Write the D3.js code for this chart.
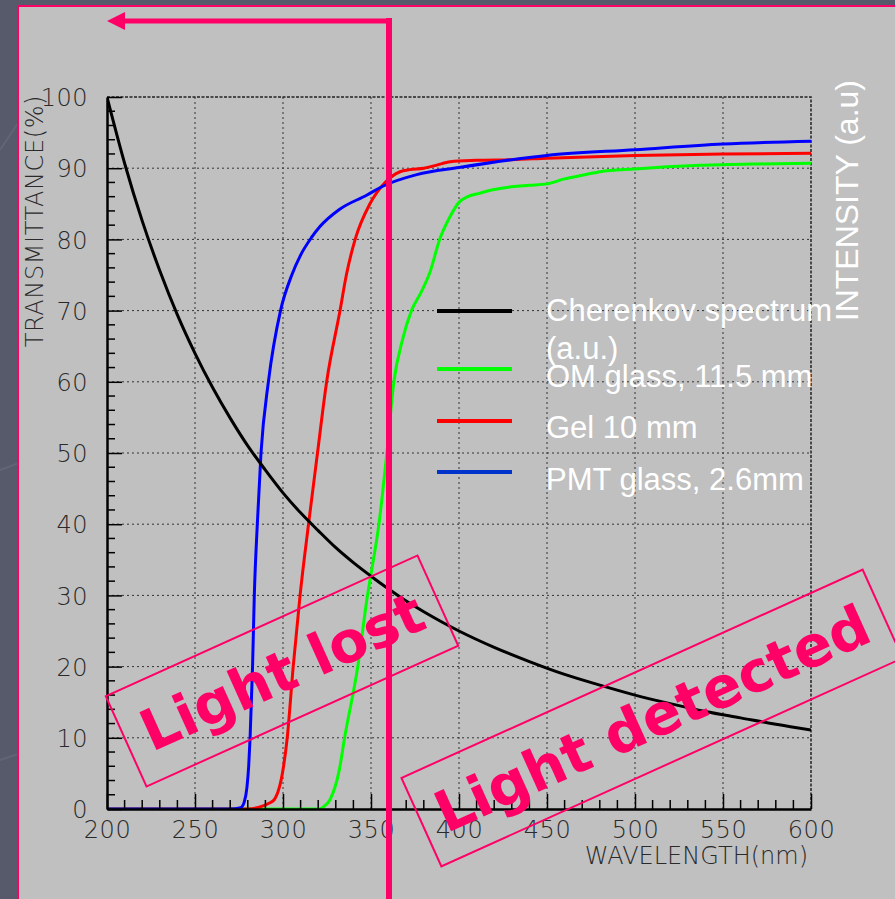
<!DOCTYPE html>
<html>
<head>
<meta charset="utf-8">
<script src="https://cdn.jsdelivr.net/npm/d3@7"></script>
<style>
  body { margin: 0; background: #565a6b; }
  svg { display: block; }
</style>
</head>
<body>
<div id="chart"></div>
<script>
// axis ticks
const xTicks = [200, 250, 300, 350, 400, 450, 500, 550, 600];
const yTicks = [0, 10, 20, 30, 40, 50, 60, 70, 80, 90, 100];

// Cherenkov spectrum (a.u.)
const cherenkovNm = [200, 210, 220, 230, 240, 250, 260, 270, 280, 290, 300, 310, 320, 330, 340, 350, 360, 370, 380, 390, 400,
  420, 440, 460, 480, 500, 520, 540, 560, 580, 600];
const cherenkovT = [100, 90.7, 82.6, 75.6, 69.4, 64.0, 59.2, 54.9, 51.0, 47.6, 44.4, 41.6, 39.1, 36.7, 34.6, 32.7, 30.9, 29.2, 27.7, 26.3, 25.0,
  22.7, 20.7, 18.9, 17.4, 16.0, 14.8, 13.7, 12.8, 11.9, 11.1];

// OM glass, 11.5 mm
const omNm = [200, 320, 323, 326.7, 332, 335, 342.5, 348, 350, 354.5, 359, 363, 368, 373, 378.5, 383.5, 389, 394.5, 400,
  405, 412, 420, 430, 440, 450, 460, 470, 480, 500, 537, 570, 600];
const omT = [0, 0, 0.3, 1.3, 5.5, 10, 20, 30, 33, 40, 50, 60, 66, 70, 72.6, 75.4, 80, 83, 85.2,
  86, 86.5, 87, 87.4, 87.6, 87.8, 88.5, 89.0, 89.5, 89.9, 90.4, 90.6, 90.7];

// Gel 10 mm
const gelNm = [200, 280, 287, 292, 295, 300, 302.4, 305.8, 309.7, 314.5, 319.6, 324.8, 332.4, 336, 341, 349.4, 358, 366.5,
  372, 380, 387, 395, 410, 430, 450, 500, 550, 600];
const gelT = [0, 0, 0.3, 0.8, 1.3, 5.5, 10, 20, 30, 40, 50, 60, 70, 75, 80, 85, 88, 89.5,
  89.8, 90.0, 90.4, 90.9, 91.1, 91.2, 91.4, 91.8, 92.0, 92.1];

// PMT glass, 2.6mm
const pmtNm = [200, 270, 276, 278, 279.5, 280.5, 281.3, 282.7, 283.7, 285.4, 287.5, 291.7, 298.6, 305, 310, 316, 321, 332,
  347.5, 357, 376, 400, 450, 500, 550, 600];
const pmtT = [0, 0, 0.2, 1, 3, 6, 10, 20, 30, 40, 50, 60, 70, 75, 77.8, 80.2, 81.8, 84.2,
  86.2, 87.5, 89.1, 90.1, 91.8, 92.6, 93.4, 93.8];

const seriesNames = ["Cherenkov spectrum\n(a.u.)", "OM glass, 11.5 mm", "Gel 10 mm", "PMT glass, 2.6mm"];
const seriesColors = ["#000000", "#00ff00", "#ff0000", "#0000ff"];
const legendColors = ["#000000", "#00ff00", "#ff0000", "#0033cc"];

const width = 895;
const height = 899;
const pink = "#ff0066";

const series = [
  { name: seriesNames[0], color: seriesColors[0], nm: cherenkovNm, t: cherenkovT },
  { name: seriesNames[1], color: seriesColors[1], nm: omNm, t: omT },
  { name: seriesNames[2], color: seriesColors[2], nm: gelNm, t: gelT },
  { name: seriesNames[3], color: seriesColors[3], nm: pmtNm, t: pmtT }
];

const x = d3.scaleLinear().domain([200, 600]).range([107, 811]);
const y = d3.scaleLinear().domain([0, 100]).range([809, 97]);

const svg = d3.create("svg")
  .attr("width", width)
  .attr("height", height)
  .attr("viewBox", [0, 0, width, height]);

// slide background
svg.append("rect").attr("width", width).attr("height", height).attr("fill", "#565a6b");
[[0, 150, 60, 60], [0, 470, 80, 440], [0, 760, 60, 740]].forEach(([a, b, c, d]) => {
  svg.append("line").attr("x1", a).attr("y1", b).attr("x2", c).attr("y2", d)
    .attr("stroke", "rgba(255,255,255,0.07)").attr("stroke-width", 2);
});
svg.append("rect")
  .attr("x", 18).attr("y", 6)
  .attr("width", width + 20).attr("height", height + 20)
  .attr("fill", "#c0c0c0")
  .attr("stroke", pink).attr("stroke-width", 2);

const font = "'DejaVu Sans', sans-serif";

// grid
const grid = svg.append("g").attr("stroke", "#333").attr("stroke-width", 1).attr("stroke-dasharray", "2,3");
grid.selectAll(".gx").data(xTicks.slice(1, -1)).join("line")
  .attr("x1", d => x(d)).attr("x2", d => x(d)).attr("y1", y(100)).attr("y2", y(0));
grid.selectAll(".gy").data(yTicks.slice(1, -1)).join("line")
  .attr("x1", x(200)).attr("x2", x(600)).attr("y1", d => y(d)).attr("y2", d => y(d));

// top and right frame (dotted like in ROOT)
svg.append("path")
  .attr("d", `M${x(200)},${y(100)}H${x(600)}V${y(0)}`)
  .attr("fill", "none").attr("stroke", "#222").attr("stroke-width", 1.5)
  .attr("stroke-dasharray", "3,1.5");

// curves
svg.append("clipPath").attr("id", "clip").append("rect")
  .attr("x", x(200)).attr("y", y(100) - 2).attr("width", x(600) - x(200)).attr("height", y(0) - y(100) + 2);

const line = d3.line().curve(d3.curveMonotoneX);
const drawOrder = [1, 2, 3, 0];
svg.append("g").attr("clip-path", "url(#clip)")
  .selectAll("path")
  .data(drawOrder.map(i => series[i]))
  .join("path")
  .attr("fill", "none")
  .attr("stroke", d => d.color)
  .attr("stroke-width", 3)
  .attr("stroke-linejoin", "round")
  .attr("d", d => line(d.nm.map((v, i) => [x(v), y(d.t[i])])));

// axes
const xAxis = svg.append("g")
  .attr("transform", `translate(0,${y(0)})`)
  .call(d3.axisBottom(x).tickValues(xTicks).tickSize(-15).tickSizeOuter(0).tickPadding(12));
const yAxis = svg.append("g")
  .attr("transform", `translate(${x(200)},0)`)
  .call(d3.axisLeft(y).tickValues(yTicks).tickSize(-15).tickSizeOuter(0).tickPadding(19));

[xAxis, yAxis].forEach(ax => {
  ax.select(".domain").attr("stroke", "#000").attr("stroke-width", 2.5);
  ax.selectAll(".tick line").attr("stroke", "#000").attr("stroke-width", 1.5);
  ax.selectAll(".tick text")
    .attr("fill", "#2a2a2a")
    .attr("font-family", font)
    .attr("font-weight", 200)
    .attr("font-size", 24)
    .attr("letter-spacing", 0.5);
});
yAxis.selectAll(".tick text").attr("dy", "0.36em");

// minor ticks
const minorX = d3.range(210, 600, 10).filter(d => d % 50 !== 0);
svg.append("g").selectAll("line").data(minorX).join("line")
  .attr("x1", d => x(d)).attr("x2", d => x(d))
  .attr("y1", y(0)).attr("y2", y(0) - 9)
  .attr("stroke", "#000").attr("stroke-width", 1.5);
const minorY = d3.range(2, 100, 2).filter(d => d % 10 !== 0);
svg.append("g").selectAll("line").data(minorY).join("line")
  .attr("x1", x(200)).attr("x2", x(200) + 8)
  .attr("y1", d => y(d)).attr("y2", d => y(d))
  .attr("stroke", "#000").attr("stroke-width", 1.5);

// axis titles
svg.append("text")
  .attr("x", 808).attr("y", 864)
  .attr("text-anchor", "end")
  .attr("font-family", font).attr("font-weight", 200).attr("font-size", 24)
  .attr("fill", "#2a2a2a")
  .text("WAVELENGTH(nm)");

svg.append("text")
  .attr("transform", "translate(43,95) rotate(-90)")
  .attr("text-anchor", "end")
  .attr("font-family", font).attr("font-weight", 200).attr("font-size", 24)
  .attr("fill", "#2a2a2a")
  .attr("letter-spacing", 0.6)
  .text("TRANSMITTANCE(%)");

svg.append("text")
  .attr("transform", "translate(858,80) rotate(-90)")
  .attr("text-anchor", "end")
  .attr("font-family", "'Liberation Sans', Arial, sans-serif").attr("font-size", 32)
  .attr("fill", "#fff")
  .text("INTENSITY (a.u)");

// legend
const legendY = [311, 369, 421, 472];
const legendBase = [321, 387, 438, 490];
const legend = svg.append("g");
series.forEach((s, i) => {
  legend.append("line")
    .attr("x1", 437).attr("x2", 512)
    .attr("y1", legendY[i]).attr("y2", legendY[i])
    .attr("stroke", legendColors[i]).attr("stroke-width", 4);
  const t = legend.append("text")
    .attr("x", 546).attr("y", legendBase[i])
    .attr("font-family", "'Liberation Sans', Arial, sans-serif").attr("font-size", 31)
    .attr("fill", "#fff");
  s.name.split("\n").forEach((part, j) => {
    t.append("tspan").attr("x", 546).attr("dy", j === 0 ? 0 : 38).text(part);
  });
});

// annotation boxes
function stamp(cx, cy, w, h, label) {
  const g = svg.append("g").attr("transform", `translate(${cx},${cy}) rotate(-24.3)`);
  g.append("rect")
    .attr("x", -w / 2).attr("y", -h / 2).attr("width", w).attr("height", h)
    .attr("fill", "none").attr("stroke", pink).attr("stroke-width", 2);
  g.append("text")
    .attr("text-anchor", "middle").attr("dy", "0.36em")
    .attr("font-family", font).attr("font-weight", "bold").attr("font-size", 57)
    .attr("fill", pink)
    .text(label);
}
stamp(282, 671, 342, 99, "Light lost");
stamp(652, 718, 506, 97, "Light detected");

// cut marker and arrow
svg.append("line")
  .attr("x1", 389).attr("x2", 389).attr("y1", 18).attr("y2", height)
  .attr("stroke", pink).attr("stroke-width", 6);
svg.append("line")
  .attr("x1", 122).attr("x2", 392).attr("y1", 21).attr("y2", 21)
  .attr("stroke", pink).attr("stroke-width", 5);
svg.append("path")
  .attr("d", "M107,21L125,12L125,30Z")
  .attr("fill", pink);

document.getElementById("chart").append(svg.node());
</script>
</body>
</html>
